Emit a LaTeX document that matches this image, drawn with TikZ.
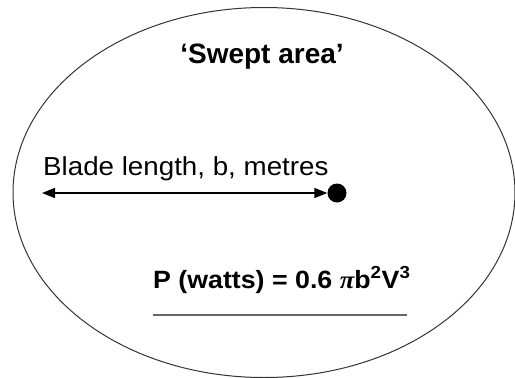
\documentclass[tikz,border=0pt]{standalone}
\usepackage{fontspec}
\setmainfont{Liberation Sans}
\newfontfamily\greekfont{Liberation Serif}
\usetikzlibrary{arrows.meta}
\tikzset{
  label text/.style={inner sep=0pt, anchor=base},
  blade arrow/.style={line width=1.5pt,
    {Triangle[length=13pt,width=10pt]}-{Triangle[length=13pt,width=10pt]}},
}
\begin{document}
\begin{tikzpicture}[x=1pt,y=-1pt]
  \useasboundingbox (0,0) rectangle (515,378);
  \draw[line width=1pt,black!80] (264,192.5) ellipse [x radius=251, y radius=185];

  \node[label text, font=\bfseries\fontsize{28}{30}\selectfont] (title) at (262,63) {‘Swept area’};
  \node[label text, anchor=base west, font=\fontsize{26}{28}\selectfont] (blade) at (43,175)
    {\scalebox{1.067}[1]{Blade length, b, metres}};
  \node[circle, fill=black, inner sep=0pt, minimum size=19pt] (hub) at (337,193) {};
  \coordinate (tip) at (42,193);
  \draw[blade arrow] (tip) -- (hub);

  \node[label text, anchor=base west, font=\bfseries\fontsize{25}{27}\selectfont] (power) at (153,288)
    {\scalebox{1.07}[1]{P (watts) = 0.6 {\greekfont\itshape π}b\textsuperscript{2}V\textsuperscript{3}}};
  \coordinate (rule l) at (153,315);
  \coordinate (rule r) at (407,315);
  \draw[black!60, line width=1.2pt] (rule l) -- (rule r);
\end{tikzpicture}
\end{document}
